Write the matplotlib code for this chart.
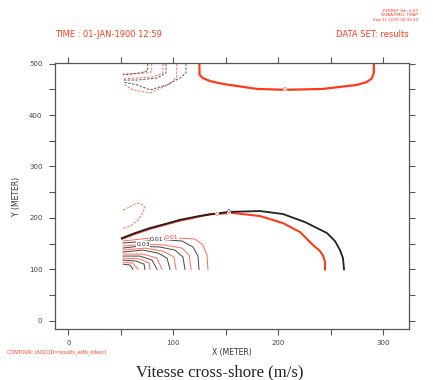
"""
Vitesse cross-shore contour plot (FERRET style), redrawn with matplotlib.
"""

import matplotlib
matplotlib.use("Agg")
from matplotlib import pyplot as plt
from matplotlib.ticker import MultipleLocator


RED = "#ff3a1a"
LIGHT_RED = "#ff6a55"
BLACK = "#222222"
GREY = "#555555"

# Zero contours (thick), x / y in metres
top_zero_x = [124.8, 125.0, 128.0, 135.0, 147.3, 179.7, 206.4, 242.6, 275.0, 284.0, 289.0, 291.0, 291.0]
top_zero_y = [500.0, 478.0, 472.0, 466.0, 460.5, 450.8, 449.0, 450.8, 458.6, 464.0, 471.0, 481.9, 500.0]

black_zero_x = [51.1, 63.5, 77.8, 92.1, 106.4, 125.4, 152.8, 182.6, 204.5, 225.4, 246.4, 254.0, 258.8, 261.6, 262.6]
black_zero_y = [160.9, 170.6, 180.4, 188.1, 196.3, 204.0, 211.8, 213.4, 207.6, 192.0, 170.6, 155.0, 137.5, 122.0, 100.0]

red_zero_x = [51.1, 63.5, 77.8, 92.1, 106.4, 125.4, 135.0, 156.9, 182.6, 204.5, 220.7, 233.0, 239.0, 242.5, 244.5, 244.5]
red_zero_y = [159.5, 169.0, 179.0, 187.0, 195.0, 203.0, 207.5, 209.6, 203.7, 190.0, 172.6, 147.3, 137.0, 127.8, 114.2, 100.0]

# Positive contours (0.01 ... 0.06) near the left boundary
black_pos = [
    ([52.1, 75.9, 84.5, 108.3, 118.8, 123.5, 124.5], [151.2, 155.1, 159.0, 155.1, 143.4, 126.0, 100.0]),
    ([52.1, 68.3, 87.3, 101.6, 109.2, 111.1], [141.4, 145.3, 143.4, 137.5, 124.0, 100.0]),
    ([52.1, 71.1, 85.4, 94.0, 96.9], [133.7, 137.5, 131.7, 122.0, 100.0]),
    ([52.1, 68.3, 79.7, 84.5], [125.9, 125.9, 118.1, 100.0]),
    ([52.1, 64.5, 72.1, 73.0], [118.1, 116.2, 110.3, 100.0]),
    ([52.1, 58.8, 61.6], [110.3, 108.4, 100.0]),
]
red_pos = [
    ([52.1, 77.8, 98.8, 120.7, 128.3, 132.1, 133.0], [155.1, 160.9, 161.5, 159.0, 147.3, 127.8, 100.0]),
    ([52.1, 73.0, 92.1, 108.3, 115.0, 116.9], [145.3, 149.2, 147.3, 141.4, 127.8, 100.0]),
    ([52.1, 73.0, 90.2, 100.7, 102.6], [137.5, 141.4, 135.6, 124.0, 100.0]),
    ([52.1, 71.1, 84.5, 89.2], [129.8, 129.8, 122.0, 100.0]),
    ([52.1, 68.3, 76.9, 77.8], [122.0, 120.1, 112.3, 100.0]),
    ([52.1, 61.6, 66.4], [114.2, 112.3, 100.0]),
]

# Negative (dashed) contours
black_neg = [
    ([75.6, 75.6, 68.3, 52.1], [500.0, 486.0, 482.0, 478.0]),
    ([93.0, 93.0, 84.5, 65.4, 52.1], [500.0, 482.0, 472.0, 468.0, 468.0]),
    ([112.1, 112.1, 106.4, 94.0, 77.8, 65.4, 52.1], [500.0, 482.0, 472.0, 458.6, 449.0, 458.6, 464.4]),
]
red_neg = [
    ([79.4, 79.4, 75.0, 61.6, 52.1], [500.0, 484.0, 482.0, 480.0, 480.0]),
    ([90.2, 90.2, 80.7, 65.4, 52.1], [500.0, 482.0, 474.0, 472.0, 470.0]),
    ([103.2, 103.2, 96.9, 77.8, 61.6, 52.1], [500.0, 474.0, 460.5, 443.0, 449.0, 460.5]),
    ([52.1, 63.5, 68.3, 73.0, 71.0, 66.4, 58.8, 52.1], [215.0, 227.0, 229.0, 221.0, 209.5, 196.0, 184.0, 180.0]),
]

# Contour labels: (x, y, text, colour)
labels = [
    (206.4, 449.0, "0", RED),
    (153.0, 212.5, "0", BLACK),
    (141.5, 206.0, "0", RED),
    (84.2, 159.0, "0.01", BLACK),
    (98.5, 162.0, "0.01", RED),
    (71.4, 149.2, "0.03", BLACK),
]

x_ticks = [0, 100, 200, 300]
y_ticks = [0, 100, 200, 300, 400, 500]

fig = plt.figure(figsize=(4.33, 3.8), dpi=100)
ax = fig.add_axes([0.127, 0.134, 0.8176, 0.700])

ax.plot(top_zero_x, top_zero_y, color=RED, lw=1.6)
ax.plot(red_zero_x, red_zero_y, color=RED, lw=1.5)
ax.plot(black_zero_x, black_zero_y, color=BLACK, lw=1.3)

for xs, ys in red_pos:
    ax.plot(xs, ys, color=LIGHT_RED, lw=0.7)
for xs, ys in black_pos:
    ax.plot(xs, ys, color="#444444", lw=0.7)
for xs, ys in red_neg:
    ax.plot(xs, ys, color=LIGHT_RED, lw=0.7, ls=(0, (2.5, 1.5)))
for xs, ys in black_neg:
    ax.plot(xs, ys, color="#555555", lw=0.7, ls=(0, (2.5, 1.5)))

for x, y, text, colour in labels:
    ax.text(x, y, text, fontsize=4.5, color=colour, ha="center", va="center",
            bbox=dict(boxstyle="square,pad=0.05", fc="white", ec="none"))

ax.set_xlim(-12.7, 324.5)
ax.set_ylim(-16, 501)
ax.set_xticks(x_ticks)
ax.set_yticks(y_ticks)
ax.xaxis.set_minor_locator(MultipleLocator(50))
ax.yaxis.set_minor_locator(MultipleLocator(50))
ax.tick_params(which="both", direction="out", length=4, width=0.8, color=GREY,
               top=True, right=True, labelsize=5, labelcolor="#444444", pad=5)
ax.tick_params(axis="x", pad=4)
for spine in ax.spines.values():
    spine.set_color(GREY)
    spine.set_linewidth(0.9)

ax.set_xlabel("X (METER)", fontsize=5.5, color="#333333", labelpad=1)
ax.set_ylabel("Y (METER)", fontsize=5.5, color="#333333", labelpad=6)

fig.text(0.127, 0.91, "TIME : 01-JAN-1900 12:59", fontsize=6, color=RED, va="center")
fig.text(0.944, 0.91, "DATA SET: results", fontsize=6, color=RED, va="center", ha="right")
fig.text(0.965, 0.975, "FERRET Ver. 6.07\nNOAA/PMEL TMAP\nSep 11 2009 18:30:13",
         fontsize=3, color=RED, va="top", ha="right", linespacing=1.0)
fig.text(0.016, 0.073, "CONTOUR: UUGC[D=results_with_ollour]", fontsize=3.5, color=RED, va="center")
fig.text(0.508, 0.02, "Vitesse cross-shore (m/s)", fontsize=12, family="Liberation Serif",
         color="#222222", ha="center", va="center")

fig.savefig("out.png", dpi=100)
